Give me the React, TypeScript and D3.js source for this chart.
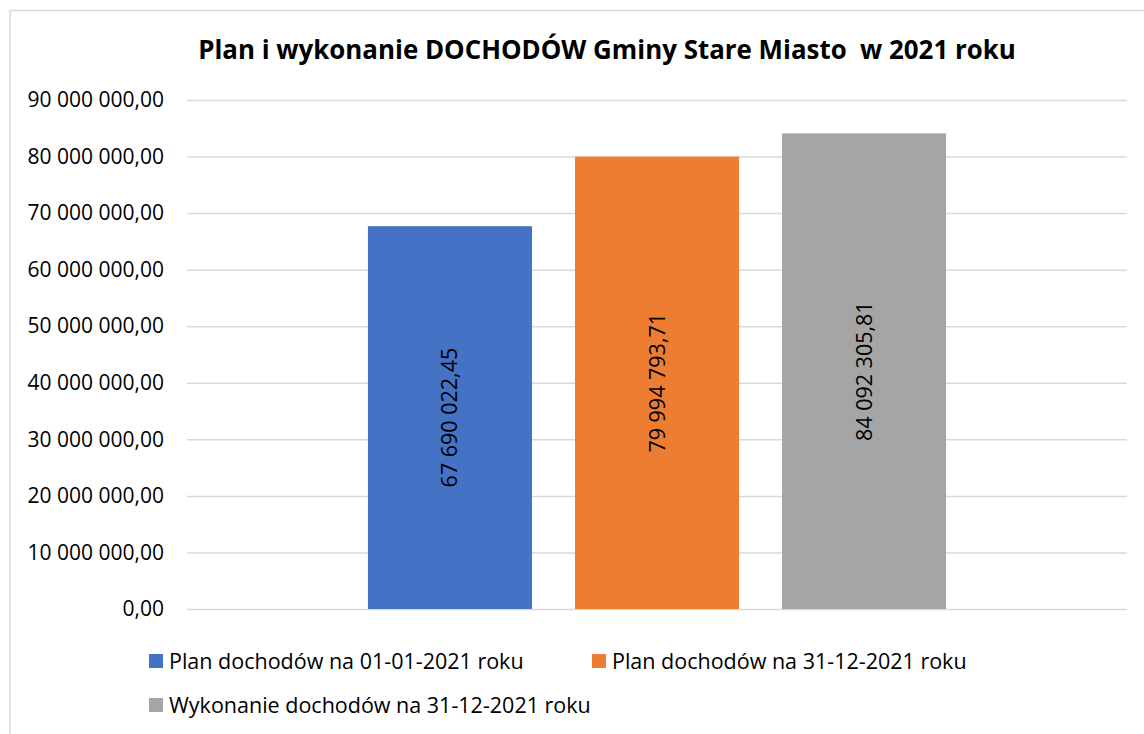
import React, { useEffect, useRef } from "react";
import * as d3 from "d3";

// ---- data ----
const categories = ["2021"];
const seriesNames = [
  "Plan dochodów na 01-01-2021 roku",
  "Plan dochodów na 31-12-2021 roku",
  "Wykonanie dochodów na 31-12-2021 roku",
];
const seriesValues = [67690022.45, 79994793.71, 84092305.81];
const seriesColors = ["#4472C4", "#ED7D31", "#A5A5A5"];
const yTickValues = [0, 10e6, 20e6, 30e6, 40e6, 50e6, 60e6, 70e6, 80e6, 90e6];
const chartTitle = "Plan i wykonanie DOCHODÓW Gminy Stare Miasto  w 2021 roku";

const plLocale = d3.formatLocale({
  decimal: ",",
  thousands: " ",
  grouping: [3],
  currency: ["", " zł"],
});
const fmt = plLocale.format(",.2f");

const FONT = "'Open Sans', sans-serif";

export default function App() {
  const ref = useRef<SVGSVGElement | null>(null);

  useEffect(() => {
    const svg = d3.select(ref.current);
    svg.selectAll("*").remove();

    const width = 1144;
    const height = 734;
    const margins = { top: 100, right: 17, bottom: 125, left: 187 };
    const boundedWidth = width - margins.left - margins.right;
    const boundedHeight = height - margins.top - margins.bottom;

    // chart frame
    svg
      .append("rect")
      .attr("x", 10)
      .attr("y", 10.5)
      .attr("width", 1200)
      .attr("height", 800)
      .attr("fill", "#fff")
      .attr("stroke", "#d9d9d9")
      .attr("stroke-width", 1.5);

    svg
      .append("text")
      .attr("x", 607)
      .attr("y", 59)
      .attr("text-anchor", "middle")
      .style("font-family", FONT)
      .style("font-weight", "bold")
      .style("font-size", "25.9px")
      .style("white-space", "pre")
      .attr("fill", "#000")
      .text(chartTitle);

    const bounds = svg
      .append("g")
      .attr("transform", `translate(${margins.left},${margins.top})`);

    const yScale = d3
      .scaleLinear()
      .domain([0, 90e6])
      .range([boundedHeight, 0]);

    const x0 = d3
      .scaleBand()
      .domain(categories)
      .range([0, boundedWidth])
      .paddingInner(0)
      .paddingOuter(0.313);

    const x1 = d3
      .scaleBand()
      .domain(seriesNames)
      .range([0, x0.bandwidth()])
      .paddingInner(0.2077)
      .paddingOuter(0);

    // gridlines + y labels
    const yAxis = bounds
      .append("g")
      .call(
        d3
          .axisLeft(yScale)
          .tickValues(yTickValues)
          .tickSize(-boundedWidth)
          .tickPadding(23)
          .tickFormat((d) => fmt(d as number))
      );
    yAxis.select(".domain").remove();
    yAxis
      .selectAll(".tick line")
      .attr("stroke", "#d9d9d9")
      .attr("stroke-width", 1.5);
    yAxis
      .selectAll(".tick text")
      .attr("fill", "#000")
      .style("font-family", FONT)
      .style("font-size", "21px");

    // bars
    const group = bounds
      .selectAll(".cat")
      .data(categories)
      .join("g")
      .attr("transform", (d) => `translate(${x0(d)},0)`);

    const rows = seriesNames.map((name, i) => ({
      name,
      value: seriesValues[i],
      color: seriesColors[i],
    }));

    group
      .selectAll("rect")
      .data(rows)
      .join("rect")
      .attr("x", (d) => x1(d.name)!)
      .attr("width", x1.bandwidth())
      .attr("y", (d) => yScale(d.value))
      .attr("height", (d) => boundedHeight - yScale(d.value))
      .attr("fill", (d) => d.color);

    group
      .selectAll("text.lbl")
      .data(rows)
      .join("text")
      .attr("class", "lbl")
      .attr(
        "transform",
        (d) =>
          `translate(${x1(d.name)! + x1.bandwidth() / 2},${
            (yScale(d.value) + boundedHeight) / 2
          }) rotate(-90)`
      )
      .attr("text-anchor", "middle")
      .attr("dy", "0.35em")
      .style("font-family", FONT)
      .style("font-size", "21.5px")
      .attr("fill", "#000")
      .text((d) => fmt(d.value));

    // legend
    const legendPos = [
      [149, 661],
      [592, 661],
      [149, 705],
    ];
    const legend = svg
      .selectAll(".legend")
      .data(rows)
      .join("g")
      .attr("class", "legend")
      .attr("transform", (d, i) => `translate(${legendPos[i][0]},${legendPos[i][1]})`);
    legend
      .append("rect")
      .attr("x", 0)
      .attr("y", -7)
      .attr("width", 14)
      .attr("height", 14)
      .attr("fill", (d) => d.color);
    legend
      .append("text")
      .attr("x", 20)
      .attr("dy", "0.35em")
      .style("font-family", FONT)
      .style("font-size", "21.5px")
      .attr("fill", "#000")
      .text((d) => d.name);
  }, []);

  return (
    <svg
      ref={ref}
      width={1144}
      height={734}
      style={{ position: "absolute", left: 0, top: 0, background: "#fff" }}
    />
  );
}
